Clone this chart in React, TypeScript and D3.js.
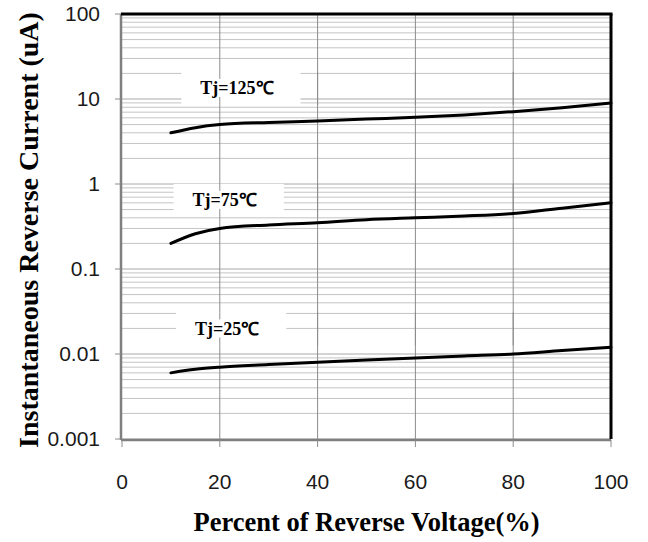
import React, { useRef, useEffect } from "react";
import * as d3 from "d3";

// percent of rated reverse voltage
const voltagePct = [10, 15, 20, 30, 40, 50, 60, 70, 80, 90, 100];
// instantaneous reverse current (uA) per junction temperature
const iR125 = [4.0, 4.6, 5.0, 5.3, 5.5, 5.8, 6.1, 6.5, 7.1, 7.9, 9.0];
const iR75 = [0.2, 0.26, 0.3, 0.33, 0.35, 0.38, 0.4, 0.42, 0.45, 0.52, 0.6];
const iR25 = [0.006, 0.0066, 0.007, 0.0075, 0.008, 0.0085, 0.009, 0.0095, 0.01, 0.011, 0.012];

const seriesLabels = ["Tj=125℃", "Tj=75℃", "Tj=25℃"];
const labelX = [23.5, 21, 21.5];
const labelY = [13.5, 0.65, 0.02];

const xTicks = [0, 20, 40, 60, 80, 100];
const yTicks = [0.001, 0.01, 0.1, 1, 10, 100];
const yTickLabels = ["0.001", "0.01", "0.1", "1", "10", "100"];

export default function App() {
  const svgRef = useRef(null);

  useEffect(() => {
    const W = 648, H = 542;
    const margin = { top: 14, right: 37, bottom: 103, left: 122 };
    const width = W - margin.left - margin.right;
    const height = H - margin.top - margin.bottom;

    const root = d3.select(svgRef.current);
    root.selectAll("*").remove();
    const svg = root.append("g").attr("transform", `translate(${margin.left},${margin.top})`);

    const x = d3.scaleLinear().domain([0, 100]).range([0, width]);
    const y = d3.scaleLog().domain([0.001, 100]).range([height, 0]);

    // minor horizontal grid (2..9 of each decade)
    const minor = [];
    yTicks.slice(0, -1).forEach((d) => {
      for (let k = 2; k <= 9; k++) minor.push(d * k);
    });
    svg.append("g").selectAll("line").data(minor).enter().append("line")
      .attr("x1", 0).attr("x2", width)
      .attr("y1", (d) => y(d)).attr("y2", (d) => y(d))
      .attr("stroke", "#c4c4c4").attr("stroke-width", 1);
    svg.append("g").selectAll("line").data(yTicks).enter().append("line")
      .attr("x1", 0).attr("x2", width)
      .attr("y1", (d) => y(d)).attr("y2", (d) => y(d))
      .attr("stroke", "#a8a8a8").attr("stroke-width", 1);

    // vertical grid
    const vgrid = (g, y0, y1) => g.selectAll("line").data(xTicks.slice(1, -1)).enter().append("line")
      .attr("x1", (d) => x(d)).attr("x2", (d) => x(d))
      .attr("y1", y0).attr("y2", y1)
      .attr("stroke", "#8c8c8c").attr("stroke-width", 1);
    vgrid(svg.append("g"), 0, height);

    // series labels with white boxes
    const labels = svg.append("g");
    seriesLabels.forEach((txt, i) => {
      const cx = x(labelX[i]), cy = y(labelY[i]);
      const g = labels.append("g");
      const box = g.append("rect").attr("fill", "white");
      const vg = g.append("g");
      const bg = g.append("rect").attr("fill", "white");
      const t = g.append("text")
        .attr("x", cx).attr("y", cy).attr("dy", "0.35em")
        .attr("text-anchor", "middle")
        .style("font-family", "'Liberation Serif', 'Times New Roman', serif")
        .style("font-weight", "bold").style("font-size", "18px")
        .text(txt);
      const tw = t.node().getComputedTextLength();
      box.attr("x", cx - tw / 2 - 19).attr("y", cy - 16).attr("width", tw + 46).attr("height", 33);
      vgrid(vg, cy - 16, cy + 17);
      bg.attr("x", cx - tw / 2 - 3).attr("y", cy - 9).attr("width", tw + 6).attr("height", 18);
    });

    // curves
    const line = d3.line()
      .x((d) => x(d[0]))
      .y((d) => y(d[1]))
      .curve(d3.curveMonotoneX);
    [iR125, iR75, iR25].forEach((vals) => {
      svg.append("path")
        .datum(voltagePct.map((v, i) => [v, vals[i]]))
        .attr("fill", "none")
        .attr("stroke", "black")
        .attr("stroke-width", 3)
        .attr("stroke-linecap", "round")
        .attr("d", line);
    });

    // frame: left/bottom grey axis lines, top/right heavy black
    svg.append("line").attr("x1", -1).attr("x2", -1).attr("y1", 0).attr("y2", height + 1)
      .attr("stroke", "#7f7f7f").attr("stroke-width", 2.5);
    svg.append("line").attr("x1", -1).attr("x2", width).attr("y1", height + 1).attr("y2", height + 1)
      .attr("stroke", "#7f7f7f").attr("stroke-width", 2.5);
    svg.append("line").attr("x1", -1).attr("x2", width + 1.5).attr("y1", 0).attr("y2", 0)
      .attr("stroke", "black").attr("stroke-width", 3);
    svg.append("line").attr("x1", width).attr("x2", width).attr("y1", 0).attr("y2", height)
      .attr("stroke", "black").attr("stroke-width", 3);

    // ticks
    svg.append("g").selectAll("line").data(yTicks).enter().append("line")
      .attr("x1", -7).attr("x2", -1)
      .attr("y1", (d) => y(d)).attr("y2", (d) => y(d))
      .attr("stroke", "#8c8c8c").attr("stroke-width", 1);
    svg.append("g").selectAll("line").data(xTicks).enter().append("line")
      .attr("x1", (d) => x(d)).attr("x2", (d) => x(d))
      .attr("y1", height + 1).attr("y2", height + 8)
      .attr("stroke", "#8c8c8c").attr("stroke-width", 1);

    // tick labels
    svg.append("g").selectAll("text").data(yTicks).enter().append("text")
      .attr("x", -22).attr("y", (d) => y(d)).attr("dy", "0.35em")
      .attr("text-anchor", "end")
      .style("font-family", "'Liberation Sans', Arial, sans-serif")
      .style("font-size", "21px").attr("fill", "#1a1a1a")
      .text((d, i) => yTickLabels[i]);
    svg.append("g").selectAll("text").data(xTicks).enter().append("text")
      .attr("x", (d) => x(d)).attr("y", height + 43).attr("dy", "0.35em")
      .attr("text-anchor", "middle")
      .style("font-family", "'Liberation Sans', Arial, sans-serif")
      .style("font-size", "21px").attr("fill", "#1a1a1a")
      .text((d) => d);

    // axis titles
    svg.append("text")
      .attr("x", width / 2).attr("y", height + 83).attr("dy", "0.35em")
      .attr("text-anchor", "middle")
      .style("font-family", "'Liberation Serif', 'Times New Roman', serif")
      .style("font-weight", "bold").style("font-size", "26.5px")
      .text("Percent of Reverse Voltage(%)");
    svg.append("text")
      .attr("transform", `translate(${28 - margin.left},${216}) rotate(-90)`)
      .attr("dy", "0.35em")
      .attr("text-anchor", "middle")
      .style("font-family", "'Liberation Serif', 'Times New Roman', serif")
      .style("font-weight", "bold").style("font-size", "28px")
      .text("Instantaneous Reverse Current (uA)");

    return () => {
      d3.select(svgRef.current).selectAll("*").remove();
    };
  }, []);

  return (
    <svg ref={svgRef} width={648} height={542}
      style={{ position: "absolute", left: 0, top: 0, background: "white" }} />
  );
}
